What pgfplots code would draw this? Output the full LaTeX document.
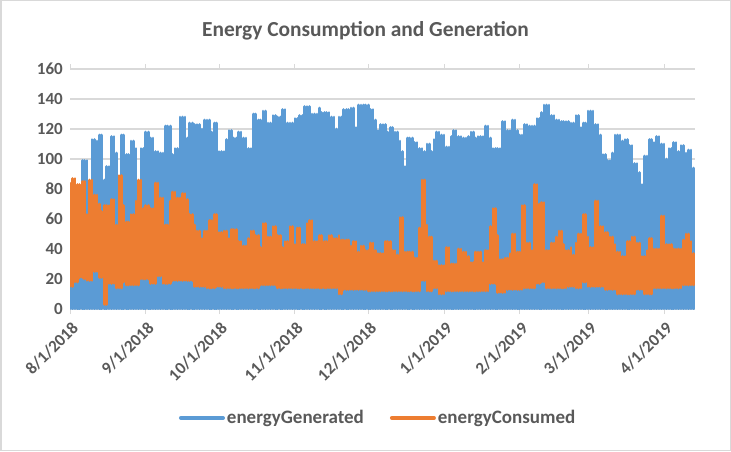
\documentclass[border=0pt]{standalone}
\usepackage{pgfplots}
\usepackage{pgfplotstable}
\usepackage{fontspec}
\setmainfont{Carlito}
\pgfplotsset{compat=1.18}
\definecolor{genC}{HTML}{5B9BD5}
\definecolor{conC}{HTML}{ED7D31}
\definecolor{txtC}{HTML}{595959}
\definecolor{gridC}{HTML}{D9D9D9}
\pgfplotstableread{
d g c l
0 80 84 15
1 80 87 15
2 80 87 18
3 80 83 18
4 80 83 21
5 99 85 21
6 99 85 20
7 99 63 19
8 63 86 19
9 113 86 19
10 113 76 25
11 112 76 25
12 116 70 21
13 116 65 21
14 86 69 3
15 95 69 3
16 95 69 17
17 115 73 17
18 115 73 17
19 104 56 14
20 56 89 14
21 116 89 14
22 116 69 18
23 103 58 16
24 103 58 16
25 112 63 16
26 112 63 16
27 107 72 16
28 74 86 16
29 107 86 20
30 107 67 20
31 118 69 20
32 118 69 20
33 114 67 17
34 114 67 17
35 105 84 17
36 105 84 22
37 104 74 22
38 104 74 17
39 122 56 17
40 122 56 17
41 122 72 17
42 103 78 19
43 107 78 19
44 107 74 19
45 128 74 19
46 128 77 19
47 128 77 19
48 114 73 19
49 124 63 19
50 124 63 19
51 123 56 15
52 123 52 15
53 123 52 15
54 120 47 15
55 126 52 15
56 126 52 14
57 126 59 14
58 118 59 14
59 124 63 14
60 124 63 15
61 105 51 15
62 105 51 15
63 105 52 14
64 113 52 14
65 119 47 14
66 119 53 14
67 114 53 14
68 114 53 14
69 118 45 14
70 118 45 14
71 114 42 14
72 114 42 14
73 107 47 14
74 107 52 14
75 130 52 14
76 130 49 14
77 126 49 14
78 126 41 16
79 132 57 16
80 132 57 16
81 124 48 16
82 124 48 16
83 129 55 16
84 129 55 16
85 128 49 14
86 128 49 14
87 133 41 14
88 133 45 14
89 124 45 14
90 124 55 14
91 124 55 14
92 127 43 14
93 127 54 14
94 129 54 14
95 129 43 14
96 135 43 14
97 135 57 14
98 135 59 14
99 130 59 14
100 130 45 14
101 130 45 14
102 134 49 14
103 131 49 14
104 131 45 14
105 131 45 14
106 131 49 14
107 128 49 14
108 128 47 14
109 120 47 14
110 128 49 10
111 128 46 10
112 133 46 13
113 133 46 13
114 133 46 13
115 134 42 13
116 134 45 13
117 121 45 13
118 136 38 13
119 136 42 13
120 136 42 13
121 136 39 13
122 136 39 12
123 133 44 12
124 133 44 12
125 126 39 12
126 119 37 12
127 123 37 12
128 123 37 12
129 123 45 12
130 118 45 12
131 121 45 12
132 121 39 12
133 118 39 12
134 118 36 12
135 112 61 12
136 105 61 12
137 95 38 12
138 114 38 12
139 114 38 12
140 114 38 12
141 111 34 12
142 111 34 12
143 107 54 12
144 107 86 19
145 105 86 19
146 110 56 12
147 110 48 12
148 105 48 12
149 113 32 14
150 118 32 14
151 118 29 10
152 116 29 10
153 116 29 10
154 108 41 12
155 108 41 12
156 115 30 12
157 119 30 12
158 119 30 12
159 115 40 12
160 115 40 12
161 114 38 12
162 114 38 12
163 115 35 12
164 118 31 12
165 118 31 12
166 114 38 12
167 115 38 12
168 115 38 12
169 115 31 12
170 122 39 12
171 122 39 12
172 114 55 17
173 107 67 17
174 107 67 17
175 107 49 11
176 107 33 11
177 125 33 11
178 125 34 11
179 119 34 13
180 119 37 13
181 126 50 13
182 126 50 13
183 119 38 13
184 116 38 13
185 116 69 13
186 123 69 14
187 123 44 14
188 122 44 14
189 122 39 14
190 122 83 14
191 127 83 17
192 127 70 17
193 131 71 18
194 136 71 18
195 136 39 14
196 136 39 14
197 129 44 14
198 129 44 14
199 126 48 14
200 126 52 14
201 125 52 14
202 125 43 14
203 125 39 14
204 125 39 15
205 124 41 15
206 124 36 15
207 129 44 14
208 129 50 14
209 121 50 14
210 124 63 18
211 124 63 18
212 132 48 15
213 132 41 15
214 132 41 15
215 123 72 15
216 123 72 15
217 116 55 15
218 103 55 15
219 103 51 13
220 99 51 13
221 99 48 13
222 104 48 13
223 116 43 13
224 116 38 10
225 116 38 10
226 112 35 10
227 113 35 10
228 113 45 10
229 109 45 10
230 109 48 10
231 97 48 10
232 97 44 13
233 91 44 13
234 83 35 13
235 102 35 10
236 102 39 10
237 113 47 10
238 113 47 10
239 111 40 14
240 115 40 14
241 115 40 14
242 110 62 14
243 110 62 14
244 100 43 14
245 107 43 14
246 107 43 14
247 111 40 14
248 111 40 14
249 105 40 14
250 109 40 14
251 109 46 16
252 104 50 16
253 106 50 16
254 106 45 16
255 94 37 16
}\energy
\begin{document}
\begin{tikzpicture}[x=1pt,y=1pt]
\path[use as bounding box] (0,0) rectangle (731,451);
\fill[white] (0,0) rectangle (731,451);
\draw[gridC,line width=1.5pt] (0.75,0.75) rectangle (730.25,450.25);
\node[font=\fontsize{21.4}{23}\selectfont\bfseries,text=txtC] at (365.5,420.5) {Energy Consumption and Generation};
\begin{axis}[
  at={(70pt,142pt)},anchor=south west,
  scale only axis,width=625pt,height=240pt,
  xmin=0,xmax=255.7,ymin=0,ymax=160,
  xtick={0,31,61,92,122,153,184,212,243},
  xticklabels={8/1/2018,9/1/2018,10/1/2018,11/1/2018,12/1/2018,1/1/2019,2/1/2019,3/1/2019,4/1/2019},
  ytick={0,20,...,160},
  /pgf/number format/assume math mode=true,
  ymajorgrids,
  grid style={gridC,line width=1.2pt},
  axis line style={draw=none},
  tick align=outside,
  major tick length=5pt,
  x tick style={gridC,line width=0.8pt},
  y tick style={draw=none},
  ticklabel style={text=txtC,font=\fontsize{17}{18}\selectfont\bfseries},
  xticklabel style={rotate=45,anchor=north east,inner sep=1pt,xshift=-3pt,yshift=-4pt},
  yticklabel style={inner sep=0pt,xshift=-2pt},
  legend columns=2,
  legend style={at={(0.493,-0.454)},anchor=center,draw=none,fill=none,
    font=\fontsize{19}{21}\selectfont\bfseries,text=txtC,
    /tikz/every even column/.append style={column sep=24pt},
    inner sep=0pt,outer sep=0pt},
  legend cell align=left,
  axis on top=false,
]
\addplot[ycomb,genC,line width=2.6pt,line cap=round,mark=none,
  legend image code/.code={\draw[genC,line width=4pt,line cap=round] (0pt,0pt) -- (42pt,0pt);}]
  table[x=d,y=g]{\energy};
\addlegendentry{energyGenerated}
\addplot[draw=none,mark=none,
  error bars/.cd,y dir=minus,y explicit,error mark=none,
  error bar style={conC,line width=2.6pt,line cap=round},
  /pgfplots/legend image code/.code={\draw[conC,line width=4pt,line cap=round] (0pt,0pt) -- (42pt,0pt);}]
  table[x=d,y=c,y error minus expr=\thisrow{c}-\thisrow{l}]{\energy};
\addlegendentry{energyConsumed}
\end{axis}
\end{tikzpicture}
\end{document}
